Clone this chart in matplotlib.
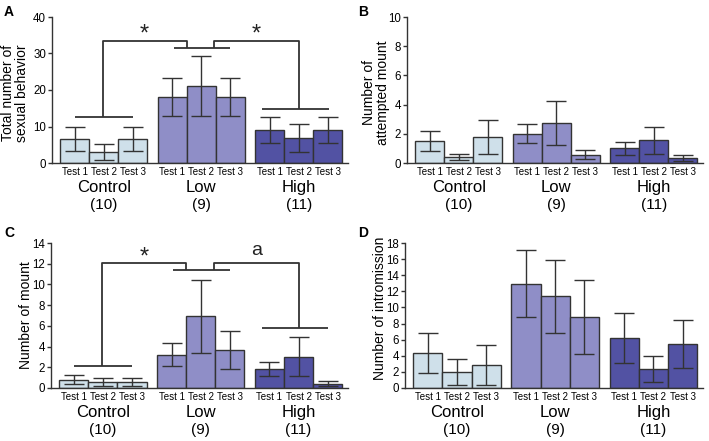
import numpy as np
import matplotlib
matplotlib.use("Agg")
import matplotlib.pyplot as plt

plt.rcParams['font.family'] = ['Liberation Sans', 'DejaVu Sans']

groups = ['Control', 'Low', 'High']
group_n = ['(10)', '(9)', '(11)']
tests = ['Test 1', 'Test 2', 'Test 3']

# means and SEM, order: Control T1-T3, Low T1-T3, High T1-T3
sexual_mean = [6.6, 3.0, 6.6, 18.1, 21.0, 18.1, 9.0, 6.9, 9.0]
sexual_sem = [3.4, 2.2, 3.4, 5.25, 8.25, 5.25, 3.6, 3.85, 3.6]
attempt_mean = [1.5, 0.41, 1.8, 2.0, 2.76, 0.57, 1.0, 1.55, 0.37]
attempt_sem = [0.66, 0.22, 1.17, 0.65, 1.52, 0.33, 0.44, 0.93, 0.2]
mount_mean = [0.8, 0.61, 0.61, 3.22, 6.92, 3.67, 1.8, 3.03, 0.42]
mount_sem = [0.44, 0.4, 0.4, 1.08, 3.5, 1.87, 0.68, 1.88, 0.26]
intro_mean = [4.34, 1.99, 2.9, 12.95, 11.38, 8.81, 6.21, 2.32, 5.46]
intro_sem = [2.48, 1.62, 2.49, 4.18, 4.53, 4.57, 3.05, 1.62, 2.92]

# significance brackets: group line heights, top height, labels
sexual_brackets = [12.6, 31.5, 14.9]
sexual_top = 33.3
sexual_marks = ['*', '*']
mount_brackets = [2.09, 11.36, 5.83]
mount_top = 12.05
mount_marks = ['*', 'a']

colors = ['#cfe0ea', '#8f8ec7', '#5252a3']
edge = '#333333'
group_step = 3.36

fig = plt.figure(figsize=(7.09, 4.41), dpi=100)
W, H = 709, 441


def make_ax(left_px, top_px, bottom_px, right_px):
    return fig.add_axes([left_px / W, 1 - bottom_px / H,
                         (right_px - left_px) / W, (bottom_px - top_px) / H])


def draw_panel(ax, mean, sem, ymax, ystep, ylabel, label_x, label_y):
    xs, cols = [], []
    for g in range(3):
        for t in range(3):
            xs.append(g * group_step + t + 0.5)
            cols.append(colors[g])
    ax.bar(xs, mean, width=1.0, color=cols, edgecolor=edge, linewidth=1.0, zorder=2)
    ax.errorbar(xs, mean, yerr=sem, fmt='none', ecolor=edge, elinewidth=1.0,
                capsize=7.5, capthick=1.0, zorder=3)
    ax.set_xlim(-0.28, 9.92)
    ax.set_ylim(0, ymax)
    ax.set_yticks(np.arange(0, ymax + 0.01, ystep))
    ax.set_xticks(xs)
    ax.set_xticklabels(tests * 3, fontsize=7,
                       family=['Liberation Sans Narrow', 'Liberation Sans'])
    ax.tick_params(axis='x', length=0, pad=3)
    ax.tick_params(axis='y', length=3, width=1, color=edge, labelsize=8.3, pad=1.2)
    for s in ['top', 'right']:
        ax.spines[s].set_visible(False)
    for s in ['left', 'bottom']:
        ax.spines[s].set_color(edge)
        ax.spines[s].set_linewidth(1.0)
    ax.set_ylabel(ylabel, fontsize=10, linespacing=1.0)
    ax.yaxis.set_label_coords(label_x, label_y)
    for g in range(3):
        cx = g * group_step + 1.5
        ax.annotate(groups[g], xy=(cx, 0), xycoords=('data', 'axes fraction'),
                    xytext=(0, -17.5), textcoords='offset points',
                    ha='center', va='center', fontsize=12)
        ax.annotate(group_n[g], xy=(cx, 0), xycoords=('data', 'axes fraction'),
                    xytext=(0, -30), textcoords='offset points',
                    ha='center', va='center', fontsize=11)


def draw_brackets(ax, heights, top, marks, mark_y):
    kw = dict(color=edge, lw=1.3, zorder=4, solid_capstyle='butt')
    spans = [(0.5, 2.5), (0.55, 2.5), (0.25, 2.53)]
    for g in range(3):
        x0 = g * group_step
        ax.plot([x0 + spans[g][0], x0 + spans[g][1]], [heights[g]] * 2, **kw)
    c_ctrl = 1.47
    low_l = group_step + 1.0
    low_r = group_step + 1.95
    c_high = 2 * group_step + 1.5
    ax.plot([c_ctrl, c_ctrl, low_l, low_l],
            [heights[0], top, top, heights[1]], **kw)
    ax.plot([low_r, low_r, c_high, c_high],
            [heights[1], top, top, heights[2]], **kw)
    for x, m in zip([(c_ctrl + low_l) / 2, (low_r + c_high) / 2], marks):
        if m == '*':
            # asterisk glyph sits high in the em box, shift baseline down
            ax.annotate(m, xy=(x, mark_y), xytext=(0, -10), textcoords='offset points',
                        ha='center', va='baseline', fontsize=17, color='#222222')
        else:
            ax.annotate(m, xy=(x, mark_y), xytext=(0, -4), textcoords='offset points',
                        ha='center', va='baseline', fontsize=14, color='#222222')


axA = make_ax(52, 17, 163, 348)
draw_panel(axA, sexual_mean, sexual_sem, 40, 10,
           'Total number of\nsexual behavior', -0.077, 0.48)
draw_brackets(axA, sexual_brackets, sexual_top, sexual_marks, 37.4)

axB = make_ax(407, 17, 163, 703)
draw_panel(axB, attempt_mean, attempt_sem, 10, 2,
           'Number of\nattempted mount', -0.056, 0.48)

axC = make_ax(51, 243, 388, 348)
draw_panel(axC, mount_mean, mount_sem, 14, 2, 'Number of mount', -0.06, 0.5)
draw_brackets(axC, mount_brackets, mount_top, mount_marks, 13.4)

axD = make_ax(405, 243, 388, 703)
draw_panel(axD, intro_mean, intro_sem, 18, 2, 'Number of intromission',
           -0.062, 0.55)

for letter, (px, py) in zip('ABCD', [(4, 5), (358, 5), (4, 226), (358, 226)]):
    fig.text(px / W, 1 - py / H, letter, fontsize=10, fontweight='bold',
             ha='left', va='top')

fig.savefig('out.png', dpi=100)
